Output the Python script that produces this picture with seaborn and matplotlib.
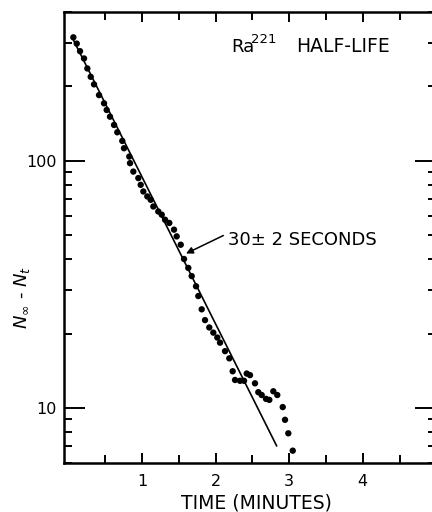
import matplotlib
matplotlib.use("Agg")
import matplotlib.pyplot as plt
import seaborn as sns
import pandas as pd
from matplotlib.ticker import LogLocator, NullFormatter, FixedLocator

# ---- data ----
time_min = [0.067, 0.113, 0.158, 0.212, 0.257, 0.303, 0.348, 0.416, 0.484, 0.520,
            0.565, 0.620, 0.664, 0.732, 0.755, 0.827, 0.837, 0.882, 0.950, 0.982,
            1.018, 1.072, 1.118, 1.154, 1.221, 1.268, 1.313, 1.371, 1.435, 1.471,
            1.526, 1.571, 1.629, 1.675, 1.734, 1.765, 1.811, 1.856, 1.914, 1.969,
            2.023, 2.060, 2.128, 2.186, 2.232, 2.264, 2.332, 2.386, 2.423, 2.467,
            2.535, 2.580, 2.626, 2.685, 2.730, 2.784, 2.838, 2.912, 2.943, 2.988,
            3.048]
counts = [316, 298, 277.7, 259.5, 236.5, 218.8, 203.9, 184.5, 170.9, 160.6,
          150.9, 139.7, 130.5, 120.4, 112.5, 104.1, 97.9, 90.5, 85.2, 80.0,
          75.2, 71.8, 69.6, 65.4, 62.4, 60.6, 57.8, 56.1, 52.7, 49.5,
          45.8, 40.1, 36.9, 34.2, 31.1, 28.4, 25.1, 22.7, 21.2, 20.2,
          19.3, 18.4, 17.0, 15.9, 14.1, 13.0, 12.9, 12.9, 13.8, 13.6,
          12.6, 11.6, 11.3, 10.9, 10.8, 11.7, 11.3, 10.1, 8.97, 7.91,
          6.73]
fit_time = [0.05, 2.83]
fit_counts = [316, 7.03]

x_tick_values = [1, 2, 3, 4]
x_tick_labels = ["1", "2", "3", "4"]
y_tick_values = [10, 100]
y_tick_labels = ["10", "100"]

annotation_text = "30\u00b1 2 SECONDS"
title_elem = "Ra"
title_mass = "221"
title_rest = "HALF-LIFE"
x_label = "TIME (MINUTES)"
y_label = r"$N_{\infty}$ - $N_t$"

# ---- style ----
sns.set_style("ticks")
plt.rcParams['font.family'] = ['DejaVu Sans']
plt.rcParams['text.color'] = 'black'
plt.rcParams['axes.labelcolor'] = 'black'
plt.rcParams['xtick.color'] = 'black'
plt.rcParams['ytick.color'] = 'black'

W, H = 432, 512
fig = plt.figure(figsize=(W / 100, H / 100), dpi=100)
ax = fig.add_axes([64 / W, 49 / H, (436.4 - 64) / W, 451 / H])

df = pd.DataFrame({"t": time_min, "n": counts})
fit = pd.DataFrame({"t": fit_time, "n": fit_counts})

sns.lineplot(data=fit, x="t", y="n", ax=ax, color="black", lw=1.2)
sns.scatterplot(data=df, x="t", y="n", ax=ax, color="black", s=21,
                edgecolor="none", zorder=3)

ax.set_yscale("log")
ax.set_xlim(-0.06, 5.0)
ax.set_ylim(6, 400)

ax.set_xticks(x_tick_values)
ax.set_xticklabels(x_tick_labels, fontsize=11.5, color='black')
ax.xaxis.set_minor_locator(FixedLocator([0.5, 1.5, 2.5, 3.5, 4.5]))

ax.yaxis.set_major_locator(FixedLocator(y_tick_values))
ax.set_yticklabels(y_tick_labels, fontsize=11.5, color='black')
ax.yaxis.set_minor_locator(LogLocator(base=10, subs=(2, 3, 4, 5, 6, 7, 8, 9)))
ax.yaxis.set_minor_formatter(NullFormatter())

ax.tick_params(which='both', direction='in', top=True, right=True,
               width=1.4, color='black', labelcolor='black')
ax.tick_params(axis='y', which='major', length=15, pad=5)
ax.tick_params(axis='y', which='minor', length=5.5)
ax.tick_params(axis='x', which='major', length=7, pad=8)
ax.tick_params(axis='x', which='minor', length=5.5)

for sp in ax.spines.values():
    sp.set_linewidth(1.8)
    sp.set_color('black')

ax.set_xlabel("")
ax.set_ylabel("")

# texts
fig.text(256 / W, 1 - 503 / H, x_label, ha='center', va='center',
         fontsize=13.5, color='black')
fig.text(22 / W, 1 - 297 / H, y_label, ha='center', va='center',
         rotation=90, fontsize=13, color='black')
fig.text(231 / W, 1 - 52 / H, title_elem, ha='left', va='baseline',
         fontsize=13, color='black')
fig.text(251 / W, 1 - 43 / H, title_mass, ha='left', va='baseline',
         fontsize=9.5, color='black')
fig.text(296 / W, 1 - 52 / H, title_rest, ha='left', va='baseline',
         fontsize=13.5, color='black')
fig.text(228 / W, 1 - 245 / H, annotation_text, ha='left', va='baseline',
         fontsize=13, color='black')

ax.annotate("", xy=(1.598, 42.2), xytext=(2.105, 49.9),
            arrowprops=dict(arrowstyle='-|>', color='black', lw=1.1,
                            mutation_scale=10, shrinkA=0, shrinkB=0))

fig.savefig("out.png", dpi=100)
